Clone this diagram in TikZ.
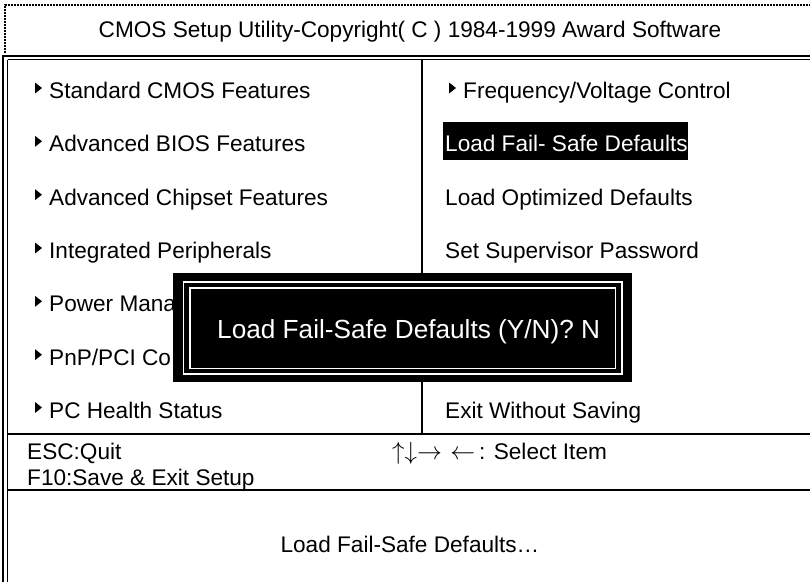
\documentclass[tikz,border=0pt]{standalone}
\usepackage{fontspec}
\setmainfont{Liberation Sans}
\usetikzlibrary{positioning}
\tikzset{
    menutext/.style={anchor=base west, inner sep=0pt, font=\fontsize{22.6}{27}\selectfont},
    heavyrule/.style={line width=2.2pt},
    lightrule/.style={line width=1.3pt}}
\newcommand{\menutri}[1]{\fill ([xshift=-14pt,yshift=5pt]#1.base west) -- ++(0,-11) -- ++(7,5.5) -- cycle;}

\begin{document}
\begin{tikzpicture}[x=1pt, y=-1pt]
\useasboundingbox (0,0) rectangle (810,582);

            % outer frame
            \draw[line width=1.6pt, dash pattern=on 2pt off 1pt] (5,53) -- (5,5) -- (810,5);
            \draw[heavyrule] (2,56) -- (810,56);
            \draw[lightrule] (7.5,59.5) -- (810,59.5);
            \draw[heavyrule] (3,56) -- (3,582);
            \draw[lightrule] (7.5,59.5) -- (7.5,582);

            \node[menutext, anchor=base] (title) at (410,37) {CMOS Setup Utility-Copyright( C ) 1984-1999 Award Software};

            \coordinate (divtop) at (422,60);
            \coordinate (divbot) at (422,434);
            \draw[line width=1.5pt] (divtop) -- (divbot);
            \draw[line width=2.4pt] (7.5,434) -- (810,434);
            \draw[line width=1.5pt] (7.5,490) -- (810,490);

            % left column
            \node[menutext] (std) at (49,98.5) {Standard CMOS Features};
            \node[menutext] (bios) at (49,151.8) {Advanced BIOS Features};
            \node[menutext] (chipset) at (49,205.2) {Advanced Chipset Features};
            \node[menutext] (periph) at (49,258.5) {Integrated Peripherals};
            \node[menutext] (power) at (49,311.8) {Power Mana};
            \node[menutext] (pnp) at (49,365.2) {PnP/PCI Co};
            \node[menutext] (health) at (49,418) {PC Health Status};
            \foreach \n in {std, bios, chipset, periph, power, pnp, health}
                {\menutri{\n}}

            % right column
            \node[menutext] (freq) at (463,98.5) {Frequency/Voltage Control};
            \menutri{freq}
            \fill (443,122) rectangle (688,160);
            \node[menutext, text=white] (failsafe) at (445,151.8) {Load Fail- Safe Defaults};
            \node[menutext] (optimized) at (445,205.2) {Load Optimized Defaults};
            \node[menutext] (superpw) at (445,258.5) {Set Supervisor Password};
            \node[menutext] (nosave) at (445,418) {Exit Without Saving};

            % key help
            \node[menutext] (esc) at (27,459) {ESC:Quit};
            \node[menutext] (f10) at (27,485) {F10:Save \& Exit Setup};
            \node[menutext, font=\fontsize{25}{27}\selectfont] (arrows) at (392,459) {$\uparrow\downarrow\rightarrow\mskip 6mu\leftarrow$};
            \node[menutext] (select) at (479,459) {: Select Item};

            \node[menutext, anchor=base] (status) at (410,552) {Load Fail-Safe Defaults…};

            % dialog
            \fill (173,273) rectangle (632,382);
            \draw[white, line width=1.8pt] (183.5,282) rectangle (622,374);
            \draw[white, line width=1.8pt] (190,288) rectangle (615.5,368.5);
            \node[menutext, text=white, font=\fontsize{26.2}{30}\selectfont] (confirm) at (217,338) {Load Fail-Safe Defaults (Y/N)? N};

\end{tikzpicture}
\end{document}
